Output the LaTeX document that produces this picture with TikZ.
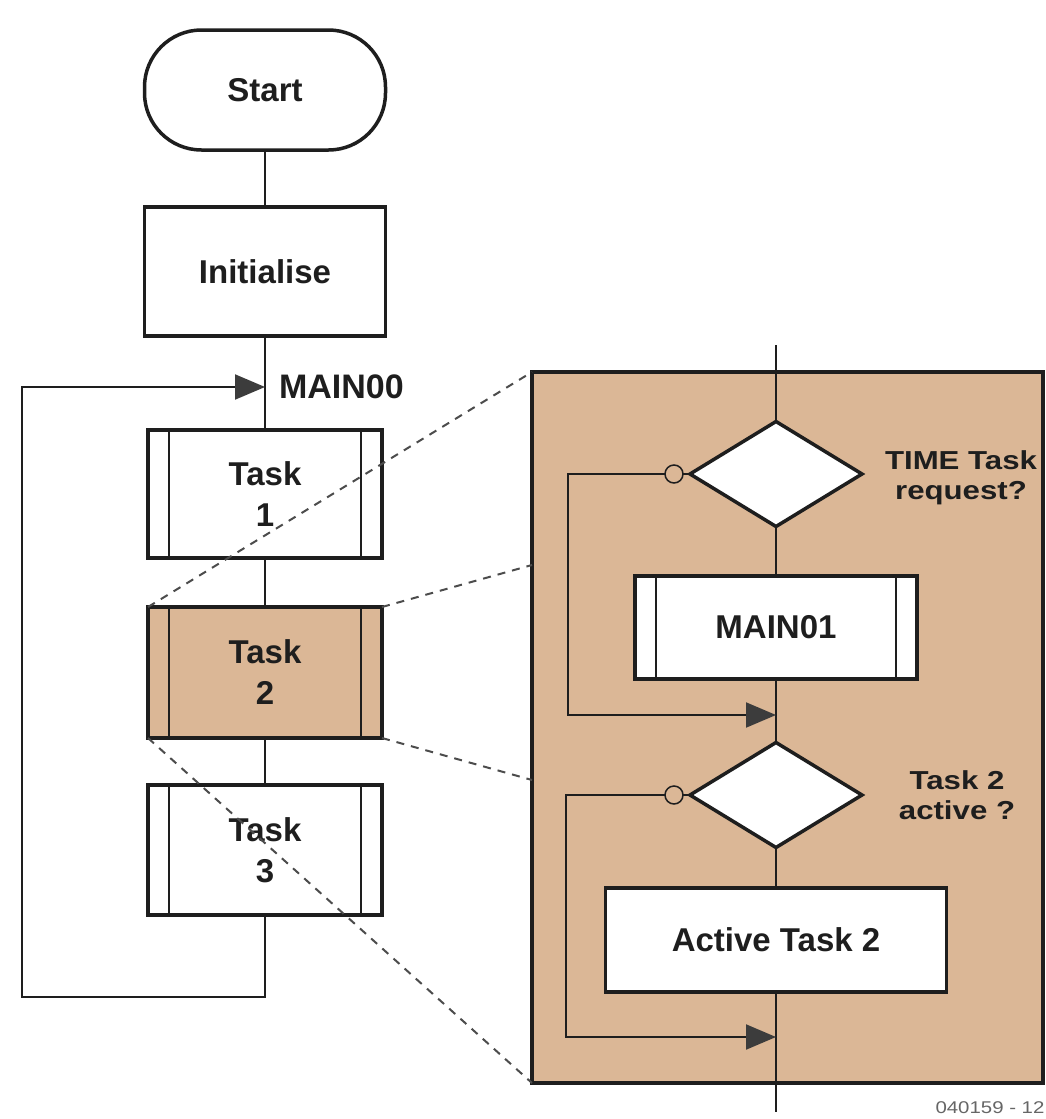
\documentclass[tikz,border=0pt]{standalone}
\usepackage{fontspec}
\setmainfont{Liberation Sans}
\newfontfamily\labfont{Liberation Sans}[FakeStretch=1.2]
\usetikzlibrary{shapes.geometric,arrows.meta}
\definecolor{paneltan}{RGB}{219,183,150}
\definecolor{ink}{RGB}{30,30,30}
\definecolor{tipgray}{RGB}{60,60,60}
\begin{document}
\begin{tikzpicture}[x=1pt,y=-1pt,
  every node/.style={inner sep=0pt, outer sep=0pt},
  boxtext/.style={font=\fontsize{33}{41}\selectfont\bfseries, text=ink, align=center},
  block/.style={boxtext, draw=ink, line width=3.5pt, fill=white, rectangle},
  subproc/.style={block, path picture={
      \draw[ink,line width=2.5pt]
        ([xshift=21pt]path picture bounding box.north west) -- ([xshift=21pt]path picture bounding box.south west)
        ([xshift=-21pt]path picture bounding box.north east) -- ([xshift=-21pt]path picture bounding box.south east);}},
  decision/.style={diamond, draw=ink, line width=3.5pt, fill=white, minimum width=172pt, minimum height=105pt},
  conn/.style={draw=ink, line width=2pt},
  arr/.style={conn, -{Triangle[length=30pt,width=25pt,fill=tipgray,color=tipgray]}},
  zoomline/.style={draw=gray!60!black, line width=2pt, dash pattern=on 8pt off 7pt},
  circ/.style={circle, draw=ink, line width=1.5pt, fill=paneltan, minimum size=18pt},
  lab/.style={font=\labfont\fontsize{26}{30}\selectfont\bfseries, text=ink, align=center}
]
\fill[white] (0,0) rectangle (1046,1119);
\useasboundingbox (0,0) rectangle (1046,1119);

% left flowchart
\node[block, rounded corners=57pt, minimum width=241pt, minimum height=120pt] (start) at (265,90) {Start};
\node[block, minimum width=241pt, minimum height=129pt] (init) at (265,271.5) {Initialise};
\node[subproc, minimum width=234pt, minimum height=128pt] (task1) at (265,494) {Task\\1};
\node[subproc, fill=paneltan, minimum width=234pt, minimum height=131pt] (task2) at (265,672.5) {Task\\2};
\node[subproc, minimum width=234pt, minimum height=130pt] (task3) at (265,850) {Task\\3};
\node[boxtext, anchor=west, font=\fontsize{34}{40}\selectfont\bfseries] (lmain) at (279,387) {MAIN00};

\coordinate (m0) at (265,387);
\coordinate (lbr) at (265,997);
\coordinate (lbl) at (22,997);
\coordinate (ltl) at (22,387);

\draw[conn] (start) -- (init);
\draw[conn] (init) -- (task1);
\draw[conn] (task1) -- (task2);
\draw[conn] (task2) -- (task3);
\draw[arr] (task3.south) -- (lbr) -- (lbl) -- (ltl) -- (m0);

% panel
\node[draw=ink, line width=4pt, fill=paneltan, minimum width=511pt, minimum height=711pt] (panel) at (787.5,727.5) {};

\node[decision] (d1) at (776,474) {};
\node[circ] (c1) at (674,474) {};
\node[subproc, minimum width=282pt, minimum height=103pt] (m01) at (776,627.5) {MAIN01};
\node[decision] (d2) at (776,795) {};
\node[circ] (c2) at (674,795) {};
\node[block, minimum width=341pt, minimum height=104pt] (act) at (776,940) {Active Task 2};

\node[lab] (l1) at (961,478) {TIME Task\\request?};
\node[lab] (l2) at (957,795) {Task 2\\active ?};

\coordinate (ptop) at (776,345);
\coordinate (pbot) at (776,1112);
\coordinate (j1) at (776,715);
\coordinate (j2) at (776,1037);
\coordinate (a1) at (568,474);
\coordinate (a2) at (568,715);
\coordinate (b1) at (566,795);
\coordinate (b2) at (566,1037);

\draw[conn] (ptop) -- (d1.north);
\draw[conn] (d1.south) -- (m01.north);
\draw[conn] (m01.south) -- (d2.north);
\draw[conn] (d2.south) -- (act.north);
\draw[conn] (act.south) -- (pbot);
\draw[conn] (c1) -- (d1.west);
\draw[conn] (c2) -- (d2.west);
\draw[arr] (c1.west) -- (a1) -- (a2) -- (j1);
\draw[arr] (c2.west) -- (b1) -- (b2) -- (j2);

% zoom lines
\coordinate (pl1) at (532,565);
\coordinate (pl2) at (532,780);
\draw[zoomline] (task2.north west) -- (panel.north west);
\draw[zoomline] (task2.north east) -- (pl1);
\draw[zoomline] (task2.south east) -- (pl2);
\draw[zoomline] (task2.south west) -- (panel.south west);

\node[font=\labfont\fontsize{17}{20}\selectfont, text=gray!80!black] (fig) at (990,1108) {040159 - 12};
\end{tikzpicture}
\end{document}
